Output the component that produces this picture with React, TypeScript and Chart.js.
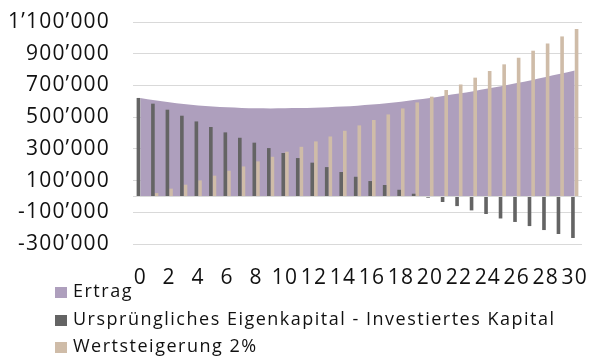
import React, { useEffect, useRef } from "react";
import { Chart, registerables } from "chart.js";

Chart.register(...registerables);

const years = [
  "0", "1", "2", "3", "4", "5", "6", "7", "8", "9", "10",
  "11", "12", "13", "14", "15", "16", "17", "18", "19", "20",
  "21", "22", "23", "24", "25", "26", "27", "28", "29", "30",
];

const ertrag = [
  621000, 606000, 594000, 583000, 574000, 567000, 562000, 558000, 556000, 555000, 556000,
  557000, 560000, 563000, 567000, 572000, 579000, 587000, 597000, 609000, 621000,
  635000, 649000, 664000, 680000, 697000, 715000, 733000, 753000, 773000, 794000,
];

const eigenkapital = [
  621000, 585000, 547000, 509000, 473000, 438000, 404000, 370000, 339000, 305000, 274000,
  242000, 213000, 185000, 154000, 124000, 97000, 72000, 42000, 17000, -8000,
  -35000, -61000, -88000, -111000, -139000, -161000, -187000, -212000, -237000, -262000,
];

const wertsteigerung = [
  0, 21000, 49000, 74000, 101000, 131000, 162000, 189000, 221000, 250000, 282000,
  313000, 347000, 378000, 414000, 448000, 482000, 517000, 555000, 593000, 629000,
  671000, 706000, 749000, 791000, 833000, 875000, 919000, 965000, 1009000, 1056000,
];

const seriesNames = [
  "Ertrag",
  "Ursprüngliches Eigenkapital - Investiertes Kapital",
  "Wertsteigerung 2%",
];
const seriesColors = ["#ae9fbd", "#646464", "#cfbca8"];

const yMin = -300000;
const yMax = 1100000;
const yStep = 200000;

const FONT = "'Open Sans', 'Noto Sans', sans-serif";

function fmt(v: number): string {
  const s = Math.abs(v).toString().replace(/\B(?=(\d{3})+(?!\d))/g, "\u2019");
  return (v < 0 ? "-" : "") + s;
}

const spacing = {
  id: "spacing",
  beforeUpdate(chart: any) {
    (chart.ctx as any).letterSpacing = "1.2px";
  },
  beforeDraw(chart: any) {
    (chart.ctx as any).letterSpacing = "1.2px";
  },
};

const zeroLine = {
  id: "zeroLine",
  afterDatasetsDraw(chart: any) {
    const { ctx, chartArea, scales } = chart;
    const py = Math.round(scales.y.getPixelForValue(0)) + 0.5;
    ctx.save();
    ctx.strokeStyle = "#d9d9d9";
    ctx.lineWidth = 1;
    ctx.beginPath();
    ctx.moveTo(chartArea.left, py);
    ctx.lineTo(chartArea.right, py);
    ctx.stroke();
    ctx.restore();
  },
};

export default function App() {
  const ref = useRef<HTMLCanvasElement | null>(null);

  useEffect(() => {
    if (!ref.current) return;
    const chart = new Chart(ref.current, {
      type: "bar",
      data: {
        labels: years,
        datasets: [
          {
            type: "line",
            label: seriesNames[0],
            data: ertrag,
            fill: "origin",
            backgroundColor: seriesColors[0],
            borderWidth: 0,
            pointRadius: 0,
            cubicInterpolationMode: "monotone",
            order: 3,
          } as any,
          {
            type: "bar",
            label: seriesNames[1],
            data: eigenkapital,
            backgroundColor: seriesColors[1],
            borderWidth: 0,
            barPercentage: 1,
            categoryPercentage: 0.5,
            order: 1,
          },
          {
            type: "bar",
            label: seriesNames[2],
            data: wertsteigerung,
            backgroundColor: seriesColors[2],
            borderWidth: 0,
            barPercentage: 1,
            categoryPercentage: 0.5,
            order: 2,
          },
        ],
      },
      options: {
        responsive: false,
        animation: false,
        events: [],
        layout: { padding: { top: 22, right: 8, left: 0, bottom: 0 } },
        plugins: {
          legend: { display: false },
          tooltip: { enabled: false },
          title: { display: false },
        },
        scales: {
          x: {
            offset: true,
            grid: { display: false, drawTicks: false },
            border: { display: false },
            ticks: {
              autoSkip: false,
              maxRotation: 0,
              minRotation: 0,
              padding: 21,
              color: "#111",
              font: { family: FONT, size: 21 },
              callback: (_v: any, i: number) => (i % 2 === 0 ? years[i] : ""),
            },
            afterFit: (s: any) => {
              s.height = 114;
              s.paddingLeft = 0;
              s.paddingRight = 0;
            },
          },
          y: {
            min: yMin,
            max: yMax,
            grid: { color: "#d9d9d9", lineWidth: 1, drawTicks: false },
            border: { display: false },
            ticks: {
              stepSize: yStep,
              padding: 23,
              color: "#111",
              font: { family: FONT, size: 21 },
              callback: (v: any) => fmt(Number(v)),
            },
            afterFit: (s: any) => {
              s.width = 133;
              s.paddingTop = 0;
              s.paddingBottom = 0;
            },
          },
        },
      },
      plugins: [spacing, zeroLine],
    });
    return () => chart.destroy();
  }, []);

  return (
    <div style={{ position: "absolute", left: 0, top: 0, width: 590, height: 358, background: "#fff", overflow: "hidden" }}>
      <canvas ref={ref} width={590} height={358} style={{ position: "absolute", left: 0, top: 0 }} />
      <div style={{ position: "absolute", left: 55, top: 276, fontFamily: FONT, fontSize: 18, letterSpacing: "1.5px", color: "#111" }}>
        {seriesNames.map((n, i) => (
          <div key={n} style={{ display: "flex", alignItems: "flex-start", height: 27.7, lineHeight: "28px", whiteSpace: "nowrap" }}>
            <span style={{ display: "inline-block", width: 12, height: 11, marginTop: 11, background: seriesColors[i], marginRight: 6 }} />
            <span>{n}</span>
          </div>
        ))}
      </div>
    </div>
  );
}
